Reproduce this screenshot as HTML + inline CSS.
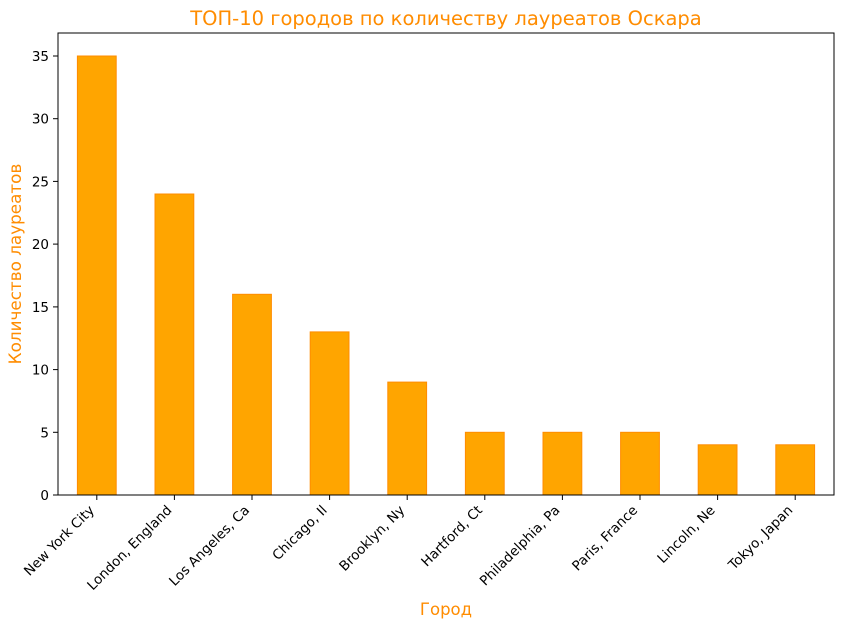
<!DOCTYPE html>
<html><head><meta charset="utf-8"><style>body{margin:0;background:#fff}svg{display:block}</style></head><body>
<svg width="843" height="627" xmlns="http://www.w3.org/2000/svg" font-family="DejaVu Sans, Liberation Sans, sans-serif">
<rect width="843" height="627" fill="#fff"/>
<g fill="#FFA500" stroke="#FF8C00" stroke-width="1">
<rect x="77.4" y="56" width="38.8" height="439"/>
<rect x="155" y="194" width="38.8" height="301"/>
<rect x="232.6" y="294.3" width="38.8" height="200.7"/>
<rect x="310.2" y="331.9" width="38.8" height="163.1"/>
<rect x="387.8" y="382.1" width="38.8" height="112.9"/>
<rect x="465.4" y="432.3" width="38.8" height="62.7"/>
<rect x="543" y="432.3" width="38.8" height="62.7"/>
<rect x="620.6" y="432.3" width="38.8" height="62.7"/>
<rect x="698.2" y="444.8" width="38.8" height="50.2"/>
<rect x="775.8" y="444.8" width="38.8" height="50.2"/>
</g>
<rect x="58" y="33" width="776" height="462" fill="none" stroke="#000" stroke-width="1"/>
<g stroke="#000" stroke-width="1">
<line x1="58" x2="53" y1="495" y2="495"/><line x1="58" x2="53" y1="432.3" y2="432.3"/><line x1="58" x2="53" y1="369.6" y2="369.6"/><line x1="58" x2="53" y1="306.9" y2="306.9"/><line x1="58" x2="53" y1="244.1" y2="244.1"/><line x1="58" x2="53" y1="181.4" y2="181.4"/><line x1="58" x2="53" y1="118.7" y2="118.7"/><line x1="58" x2="53" y1="56" y2="56"/>
<line x1="96.8" x2="96.8" y1="495" y2="500"/><line x1="174.4" x2="174.4" y1="495" y2="500"/><line x1="252" x2="252" y1="495" y2="500"/><line x1="329.6" x2="329.6" y1="495" y2="500"/><line x1="407.2" x2="407.2" y1="495" y2="500"/><line x1="484.8" x2="484.8" y1="495" y2="500"/><line x1="562.4" x2="562.4" y1="495" y2="500"/><line x1="640" x2="640" y1="495" y2="500"/><line x1="717.6" x2="717.6" y1="495" y2="500"/><line x1="795.2" x2="795.2" y1="495" y2="500"/>
</g>
<g font-size="13.5" text-anchor="end" fill="#000">
<text x="49" y="500">0</text><text x="49" y="437.3">5</text><text x="49" y="374.6">10</text><text x="49" y="311.9">15</text><text x="49" y="249.1">20</text><text x="49" y="186.4">25</text><text x="49" y="123.7">30</text><text x="49" y="61">35</text>
<g transform="translate(-5,3)">
<text transform="translate(100,508) rotate(-45)">New York City</text>
<text transform="translate(177.6,508) rotate(-45)">London, England</text>
<text transform="translate(255.2,508) rotate(-45)">Los Angeles, Ca</text>
<text transform="translate(332.8,508) rotate(-45)">Chicago, Il</text>
<text transform="translate(410.4,508) rotate(-45)">Brooklyn, Ny</text>
<text transform="translate(488,508) rotate(-45)">Hartford, Ct</text>
<text transform="translate(565.6,508) rotate(-45)">Philadelphia, Pa</text>
<text transform="translate(643.2,508) rotate(-45)">Paris, France</text>
<text transform="translate(720.8,508) rotate(-45)">Lincoln, Ne</text>
<text transform="translate(798.4,508) rotate(-45)">Tokyo, Japan</text>
</g>
</g>
<text x="446" y="25" font-size="19.5" text-anchor="middle" fill="#FF8C00">ТОП-10 городов по количеству лауреатов Оскара</text>
<text x="446" y="615" font-size="16.5" text-anchor="middle" fill="#FF8C00">Город</text>
<text transform="translate(21,264) rotate(-90)" font-size="16.8" text-anchor="middle" fill="#FF8C00">Количество лауреатов</text>
</svg>
</body></html>
